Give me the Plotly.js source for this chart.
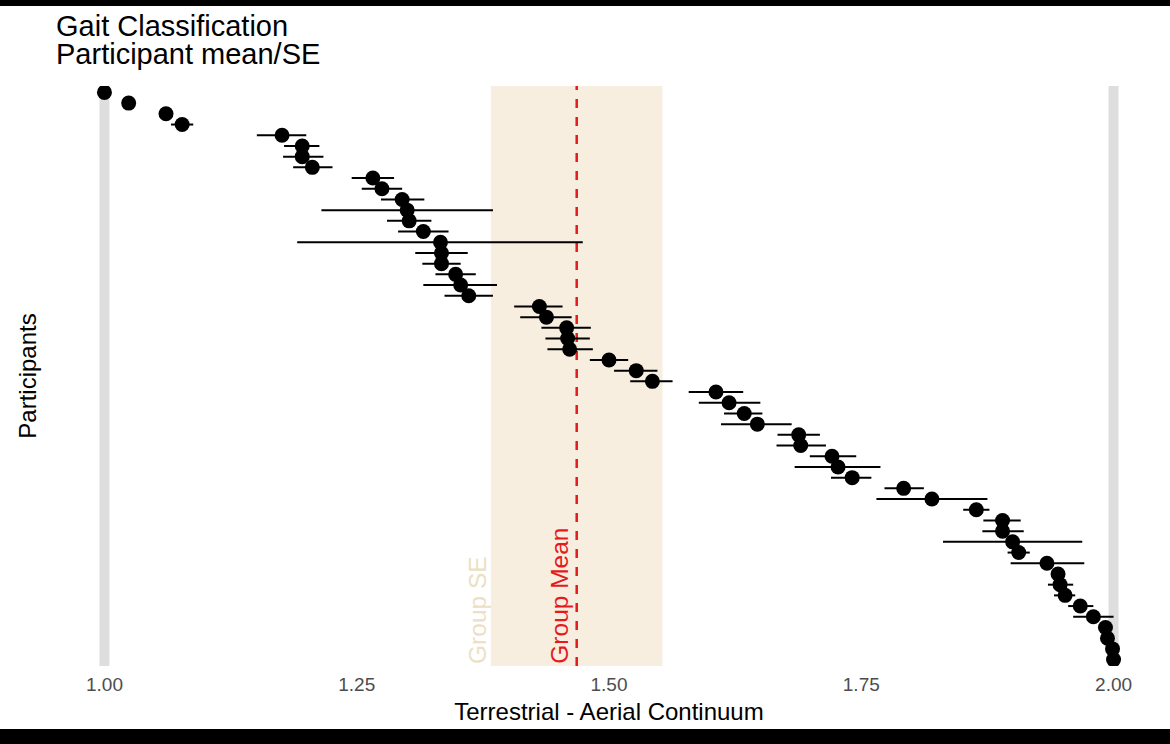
<!DOCTYPE html>
<html>
<head>
<meta charset="utf-8">
<script src="https://cdn.plot.ly/plotly-3.0.1.min.js"></script>
<style>
    html, body { margin: 0; padding: 0; background: #000; }
    #plot { position: absolute; left: 0; top: 6px; width: 1170px; height: 723px; }
</style>
</head>
<body>
<div id="plot"></div>
<script>
// participants ordered top to bottom
const participant = [];
for (let i = 1; i <= 54; i++) participant.push(i);

const meanScore = [1.000, 1.024, 1.061, 1.077, 1.176, 1.196, 1.196, 1.206, 1.266, 1.275,
    1.295, 1.300, 1.302, 1.316, 1.333, 1.334, 1.334, 1.348, 1.353, 1.361,
    1.431, 1.438, 1.458, 1.459, 1.461, 1.500, 1.527, 1.543, 1.606, 1.619,
    1.634, 1.647, 1.688, 1.690, 1.721, 1.727, 1.741, 1.792, 1.820, 1.864,
    1.890, 1.890, 1.900, 1.906, 1.934, 1.945, 1.947, 1.952, 1.967, 1.980,
    1.992, 1.994, 1.999, 2.000];

const seLow = [1.000, 1.024, 1.061, 1.066, 1.151, 1.178, 1.177, 1.187, 1.245, 1.255,
    1.274, 1.215, 1.280, 1.291, 1.191, 1.308, 1.315, 1.328, 1.316, 1.337,
    1.406, 1.412, 1.433, 1.437, 1.439, 1.481, 1.505, 1.521, 1.579, 1.589,
    1.614, 1.611, 1.667, 1.666, 1.699, 1.684, 1.720, 1.773, 1.765, 1.851,
    1.871, 1.870, 1.831, 1.895, 1.898, 1.941, 1.935, 1.941, 1.955, 1.960,
    1.992, 1.994, 1.999, 2.000];

const seHigh = [1.000, 1.024, 1.061, 1.088, 1.200, 1.213, 1.217, 1.226, 1.287, 1.295,
    1.317, 1.385, 1.324, 1.341, 1.474, 1.360, 1.353, 1.368, 1.389, 1.385,
    1.454, 1.463, 1.482, 1.481, 1.484, 1.519, 1.548, 1.563, 1.633, 1.650,
    1.652, 1.681, 1.709, 1.715, 1.745, 1.769, 1.760, 1.812, 1.875, 1.877,
    1.908, 1.911, 1.969, 1.917, 1.971, 1.949, 1.960, 1.962, 1.980, 2.000,
    1.992, 1.994, 1.999, 2.000];

const groupMean = 1.468;
const groupSE = 0.085;

const fontFam = "Liberation Sans, Arial, sans-serif";

const points = {
    x: meanScore,
    y: participant,
    type: 'scatter',
    mode: 'markers',
    marker: { color: 'black', size: 15 },
    error_x: {
        type: 'data',
        symmetric: false,
        array: seHigh.map((h, i) => h - meanScore[i]),
        arrayminus: seLow.map((l, i) => meanScore[i] - l),
        width: 0,
        thickness: 2,
        color: 'black'
    },
    hoverinfo: 'x'
};

const layout = {
    width: 1170,
    height: 723,
    margin: { l: 54, r: 6, t: 80, b: 63 },
    paper_bgcolor: 'white',
    plot_bgcolor: 'white',
    showlegend: false,
    font: { family: fontFam, color: 'black' },
    xaxis: {
        range: [0.95, 2.05],
        tickvals: [1, 1.25, 1.5, 1.75, 2],
        ticktext: ['1.00', '1.25', '1.50', '1.75', '2.00'],
        showgrid: false,
        zeroline: false,
        ticks: '',
        ticklabelstandoff: 5,
        tickfont: { size: 19, color: '#4d4d4d', family: fontFam },
        title: { text: 'Terrestrial - Aerial Continuum', font: { size: 24 }, standoff: 9 }
    },
    yaxis: {
        range: [54.6, 0.4],
        showticklabels: false,
        showgrid: false,
        zeroline: false,
        ticks: '',
        title: { text: 'Participants', font: { size: 24 }, standoff: 9 }
    },
    shapes: [
        { type: 'rect', xref: 'x', yref: 'paper', x0: groupMean - groupSE, x1: groupMean + groupSE,
          y0: 0, y1: 1, fillcolor: '#f7eedf', line: { width: 0 }, layer: 'below' },
        { type: 'line', xref: 'x', yref: 'paper', x0: 1, x1: 1, y0: 0, y1: 1,
          line: { color: '#dedede', width: 10 }, layer: 'below' },
        { type: 'line', xref: 'x', yref: 'paper', x0: 2, x1: 2, y0: 0, y1: 1,
          line: { color: '#dedede', width: 10 }, layer: 'below' },
        { type: 'line', xref: 'x', yref: 'paper', x0: groupMean, x1: groupMean, y0: 0, y1: 1,
          line: { color: '#e41a1c', width: 2.5, dash: '9px,9px' }, layer: 'below' }
    ],
    annotations: [
        { text: 'Gait Classification', xref: 'paper', yref: 'paper', x: 0, y: 1 + 60 / 580,
          xanchor: 'left', yanchor: 'middle', showarrow: false, font: { size: 29 } },
        { text: 'Participant mean/SE', xref: 'paper', yref: 'paper', x: 0, y: 1 + 32 / 580,
          xanchor: 'left', yanchor: 'middle', showarrow: false, font: { size: 29 } },
        { text: 'Group SE', xref: 'x', yref: 'paper', x: groupMean - groupSE, xshift: -14, y: 0,
          xanchor: 'center', yanchor: 'bottom', textangle: -90, showarrow: false,
          font: { size: 24.5, color: '#ecdfc3' } },
        { text: 'Group Mean', xref: 'x', yref: 'paper', x: groupMean, xshift: -18, y: 0,
          xanchor: 'center', yanchor: 'bottom', textangle: -90, showarrow: false,
          font: { size: 24.5, color: '#e41a1c' } }
    ]
};

Plotly.newPlot('plot', [points], layout, { displayModeBar: false, staticPlot: true });
</script>
</body>
</html>
